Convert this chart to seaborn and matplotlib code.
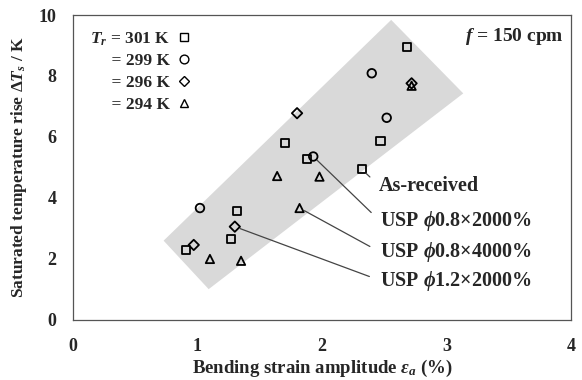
import numpy as np
import pandas as pd
import seaborn as sns
import matplotlib
matplotlib.use("Agg")
import matplotlib.pyplot as plt
from matplotlib.patches import Polygon
from matplotlib.lines import Line2D

# ---- data ----
sq_x = [0.91, 1.27, 1.32, 1.70, 1.88, 2.32, 2.47, 2.68]
sq_y = [2.30, 2.65, 3.58, 5.81, 5.28, 4.94, 5.88, 8.96]
ci_x = [1.02, 1.93, 2.40, 2.52]
ci_y = [3.67, 5.36, 8.09, 6.63]
di_x = [0.97, 1.30, 1.80, 2.72]
di_y = [2.46, 3.06, 6.78, 7.76]
tr_x = [1.10, 1.35, 1.64, 1.98, 1.82, 2.72]
tr_y = [2.00, 1.94, 4.72, 4.70, 3.67, 7.68]
temps = ["301", "299", "296", "294"]

band_x = [0.728, 2.556, 3.135, 1.090]
band_y = [2.60, 9.84, 7.43, 1.01]

ann_labels = ["As-received", r"USP $\phi$0.8$\times$2000%",
              r"USP $\phi$0.8$\times$4000%", r"USP $\phi$1.2$\times$2000%"]
ann_pts = [(2.32, 4.94), (1.93, 5.36), (1.82, 3.67), (1.30, 3.06)]
ann_text = [(2.46, 4.40), (2.47, 3.23), (2.47, 2.22), (2.47, 1.29)]

x_ticks = [0, 1, 2, 3, 4]
y_ticks = [0, 2, 4, 6, 8, 10]

df = pd.DataFrame({
    "x": sq_x + ci_x + di_x + tr_x,
    "y": sq_y + ci_y + di_y + tr_y,
    "Tr": [temps[0]] * len(sq_x) + [temps[1]] * len(ci_x)
          + [temps[2]] * len(di_x) + [temps[3]] * len(tr_x),
})

sns.set_theme(style="white")
plt.rcParams["font.family"] = ["Liberation Serif", "DejaVu Serif"]
plt.rcParams["font.weight"] = "bold"
plt.rcParams["axes.labelweight"] = "bold"
plt.rcParams["mathtext.fontset"] = "custom"
plt.rcParams["mathtext.rm"] = "Liberation Serif:bold"
plt.rcParams["mathtext.it"] = "Liberation Serif:italic:bold"
plt.rcParams["mathtext.bf"] = "Liberation Serif:bold"
plt.rcParams["mathtext.sf"] = "Liberation Serif:bold"

fig = plt.figure(figsize=(5.82, 3.80), dpi=100)
ax = fig.add_axes([0.1254, 0.158, 0.8556, 0.8025])

ax.add_patch(Polygon(np.column_stack([band_x, band_y]), closed=True,
                     facecolor="#d9d9d9", edgecolor="none", zorder=0))

markers = {temps[0]: "s", temps[1]: "o", temps[2]: "D", temps[3]: "^"}
sizes = {temps[0]: 34, temps[1]: 38, temps[2]: 28, temps[3]: 36}
for t in temps:
    sub = df[df["Tr"] == t]
    sns.scatterplot(data=sub, x="x", y="y", marker=markers[t], s=sizes[t],
                    facecolor="none", edgecolor="black", linewidth=1.3,
                    ax=ax, zorder=3, legend=False)

# legend-like text block
leg_labels = [r"$T_r$ = %s K" % temps[0]] + ["    = %s K" % t for t in temps[1:]]
handles = [Line2D([], [], linestyle="none", marker=markers[t],
                  markersize=6.3 if t != temps[2] else 5.5,
                  markerfacecolor="none", markeredgecolor="black", markeredgewidth=1.0)
           for t in temps]
leg = ax.legend(handles, leg_labels, loc="upper left", frameon=False,
                markerfirst=False, fontsize=12.5, handlelength=0.8,
                handletextpad=0.4, labelspacing=0.32,
                bbox_to_anchor=(0.01, 0.99), borderaxespad=0.3)
for txt in leg.get_texts():
    txt.set_fontweight("bold")

ax.text(0.985, 0.93, r"$f$ = 150 cpm", transform=ax.transAxes, ha="right",
        va="center", fontsize=14, fontweight="bold")

for lab, p, t in zip(ann_labels, ann_pts, ann_text):
    ax.annotate(lab, xy=p, xytext=t, fontsize=14.5, fontweight="bold",
                va="center", ha="left",
                arrowprops=dict(arrowstyle="-", color="#444444", lw=0.9,
                                shrinkA=6, shrinkB=4, relpos=(0, 0.5)))

ax.set_xlim(0, 4)
ax.set_ylim(0, 10)
ax.set_xticks(x_ticks)
ax.set_yticks(y_ticks)
ax.set_xticklabels([str(v) for v in x_ticks], fontsize=13, fontweight="bold")
ax.set_yticklabels([str(v) for v in y_ticks], fontsize=13, fontweight="bold")
ax.tick_params(axis="both", direction="in", length=3, width=0.8, color="#666666")
ax.tick_params(axis="x", pad=13)
ax.tick_params(axis="y", pad=12)
for s in ax.spines.values():
    s.set_visible(True)
    s.set_color("#555555")
    s.set_linewidth(0.9)

ax.set_xlabel(r"Bending strain amplitude $\varepsilon_a$ (%)", fontsize=13.5,
              fontweight="bold", labelpad=2)
ax.set_ylabel(r"Saturated temperature rise $\Delta T_s$ / K", fontsize=12.5,
              fontweight="bold", labelpad=7)

fig.savefig("out.png", dpi=100)
